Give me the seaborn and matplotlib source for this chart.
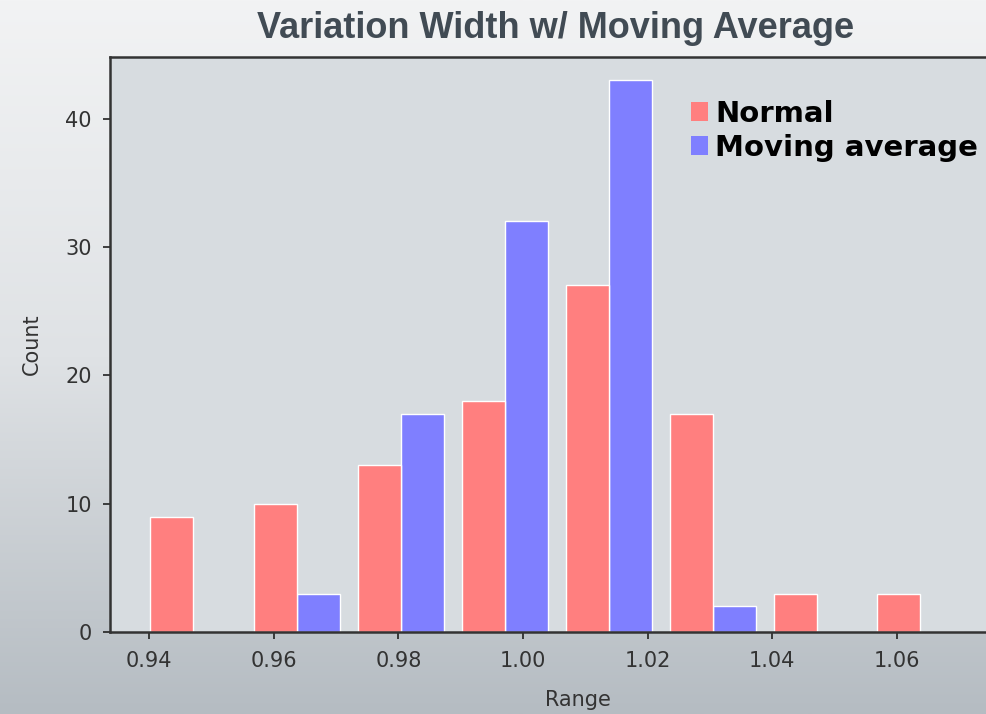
import matplotlib
matplotlib.use('Agg')
import matplotlib.pyplot as plt
from matplotlib import font_manager
from matplotlib.colors import LinearSegmentedColormap
from matplotlib.patches import Patch
import numpy as np
import pandas as pd
import seaborn as sns

# histogram bins
bin_edges = [0.9388, 0.9554, 0.9721, 0.9888, 1.0054, 1.0221, 1.0388, 1.0554, 1.0721]
bin_centers = [0.9471, 0.9638, 0.9804, 0.9971, 1.0138, 1.0304, 1.0471, 1.0638]
normal_counts = [9, 10, 13, 18, 27, 17, 3, 3]
moving_counts = [0, 3, 17, 32, 43, 2, 0, 0]
series_names = ['Normal', 'Moving average']
series_colors = ['#ff7f7f', '#7f7fff']

df = pd.concat([
    pd.DataFrame({'Range': bin_centers, 'Count': normal_counts, 'Series': series_names[0]}),
    pd.DataFrame({'Range': bin_centers, 'Count': moving_counts, 'Series': series_names[1]}),
])

sns.set_style('ticks')
plt.rcParams['font.family'] = ['DejaVu Sans']

# regular-width Liberation Sans Bold for the title
title_font = font_manager.FontProperties(family='Liberation Sans', weight='bold',
                                         stretch='normal', size=26)

fig = plt.figure(figsize=(9.86, 7.14), dpi=100)

# gradient figure background
bg = fig.add_axes([0, 0, 1, 1], zorder=-10)
grad = np.linspace(0, 1, 256).reshape(-1, 1)
cmap = LinearSegmentedColormap.from_list('bg', ['#f2f3f4', '#dfe2e5', '#b5bcc2'])
bg.imshow(grad, aspect='auto', cmap=cmap, extent=[0, 1, 0, 1], origin='upper')
bg.set_axis_off()

ax = fig.add_axes([0.1116, 0.1148, 0.8884, 0.8054])
ax.set_facecolor('#d7dce0')

sns.histplot(data=df, x='Range', weights='Count', hue='Series', hue_order=series_names,
             bins=bin_edges, multiple='dodge', shrink=0.83, palette=series_colors,
             alpha=1, edgecolor='white', linewidth=1, legend=False, ax=ax)

ax.set_xlim(0.93374, 1.07428)
ax.set_ylim(0, 44.8)
ax.set_xticks([0.94, 0.96, 0.98, 1.00, 1.02, 1.04, 1.06])
ax.set_xticklabels(['0.94', '0.96', '0.98', '1.00', '1.02', '1.04', '1.06'])
ax.set_yticks([0, 10, 20, 30, 40])
ax.tick_params(axis='both', labelsize=15, length=5, width=1.2, colors='#222222',
               labelcolor='#333333')
ax.tick_params(axis='y', pad=8)
ax.tick_params(axis='x', pad=9)

for side in ['left', 'bottom', 'top']:
    ax.spines[side].set_color('#333333')
    ax.spines[side].set_linewidth(1.8)
ax.spines['right'].set_visible(False)

ax.set_xlabel('Range', fontsize=15, color='#333333')
ax.set_ylabel('Count', fontsize=15, color='#333333')
ax.xaxis.set_label_coords(0.534, -0.1)
ax.yaxis.set_label_coords(-0.078, 0.5)

handles = [Patch(facecolor=c, edgecolor='none') for c in series_colors]
fig.legend(handles, series_names, loc='upper left', bbox_to_anchor=(0.686, 0.881),
           frameon=False, borderpad=0, handlelength=0.6, handleheight=0.6,
           handletextpad=0.22, labelspacing=0.22, labelcolor='black',
           prop={'weight': 'bold', 'size': 21})

fig.text(0.563, 1 - 28 / 714, 'Variation Width w/ Moving Average', ha='center', va='center',
         fontproperties=title_font, color='#414b54')

fig.savefig('out.png', dpi=100)
